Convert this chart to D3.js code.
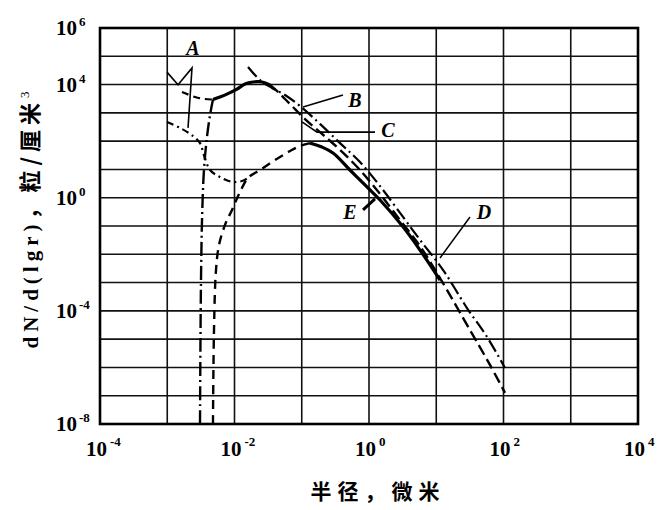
<!DOCTYPE html>
<html><head><meta charset="utf-8">
<script src="https://cdn.jsdelivr.net/npm/d3@7"></script>
<style>body{margin:0;background:#fff}</style>
</head><body><svg id="c" width="663" height="510"></svg>
<script>
// Tick exponents (labels are 10^e)
const xTickExps = [-4, -2, 0, 2, 4];
const yTickExps = [6, 4, 0, -4, -8];
const xGridExps = [-4, -3, -2, -1, 0, 1, 2, 3, 4];
const yGridExps = [6, 5, 4, 3, 2, 1, 0, -1, -2, -3, -4, -5, -6, -7, -8];

// Curves: log10 radius (µm), log10 dN/d(lgr)
const aUpperLogR = [-2.781, -2.587, -2.439, -2.320];
const aUpperLogN = [3.74, 3.56, 3.49, 3.47];

const aLowerLogR = [-3.004, -2.810, -2.617, -2.513, -2.454, -2.364, -2.216, -2.037, -1.888, -1.799];
const aLowerLogN = [2.68, 2.47, 2.18, 1.93, 1.51, 0.98, 0.73, 0.56, 0.59, 0.70];

const stemLogR = [-2.513, -2.507, -2.498, -2.483, -2.454, -2.409, -2.364, -2.320];
const stemLogN = [-8.0, -5.38, -2.91, -0.79, 0.98, 2.15, 2.92, 3.47];

const peakLogR = [-2.320, -2.216, -2.097, -1.963, -1.844, -1.725, -1.591, -1.472];
const peakLogN = [3.47, 3.56, 3.68, 3.84, 4.02, 4.09, 4.09, 3.99];

const cLogR = [-1.472, -1.353, -1.249, -1.145, -0.952, -0.729, -0.431, -0.134, 0.164, 0.461, 0.758, 1.056, 1.502, 1.799, 2.022];
const cLogN = [3.99, 3.74, 3.49, 3.24, 2.78, 2.32, 1.69, 0.98, 0.13, -0.79, -1.71, -2.84, -4.68, -5.91, -6.90];

const bLogR = [-1.799, -1.621, -1.442, -1.249, -1.026, -0.729, -0.431, -0.134, 0.164, 0.506, 0.758, 1.100, 1.457, 1.755, 2.022];
const bLogN = [4.62, 4.16, 3.88, 3.63, 3.24, 2.61, 1.93, 1.26, 0.41, -0.68, -1.49, -2.55, -3.90, -4.92, -6.02];

const eRiseLogR = [-2.320, -2.305, -2.275, -2.230, -2.141, -2.037, -1.918, -1.799, -1.621, -1.398, -1.175, -1.026, -0.877];
const eRiseLogN = [-8.0, -4.68, -2.55, -1.67, -0.96, -0.43, 0.20, 0.70, 0.98, 1.33, 1.65, 1.83, 1.93];

const eFallLogR = [-0.877, -0.699, -0.535, -0.283, -0.030, 0.164, 0.506, 0.758, 1.056];
const eFallLogN = [1.93, 1.79, 1.58, 0.98, 0.38, -0.08, -1.03, -1.85, -2.91];

// Annotation labels and leader lines (log units)
const labelNames = ["A", "B", "C", "D", "E"];
const labelLogR = [-2.617, -0.208, 0.283, 1.710, -0.283];
const labelLogN = [5.29, 3.45, 2.39, -0.50, -0.50];
const leaderA1LogR = [-3.004, -2.840, -2.632, -2.691];
const leaderA1LogN = [4.44, 3.99, 4.59, 2.47];
const leaderBLogR = [-0.981, -0.387];
const leaderBLogN = [3.21, 3.63];
const leaderCLogR = [-0.996, -0.773, 0.089];
const leaderCLogN = [2.68, 2.32, 2.32];
const leaderDLogR = [1.056, 1.502];
const leaderDLogN = [-2.13, -0.68];
const leaderELogR = [-0.089, 0.089];
const leaderELogN = [-0.43, -0.04];

const svg = d3.select("#c");
const x = d3.scaleLog().domain([1e-4, 1e4]).range([100, 638]);
const y = d3.scaleLog().domain([1e-8, 1e6]).range([424, 28]);
const P = (lr, ln) => lr.map((r, i) => [Math.pow(10, r), Math.pow(10, ln[i])]);
const line = d3.line().x(d => x(d[0])).y(d => y(d[1]));
const smooth = d3.line().x(d => x(d[0])).y(d => y(d[1])).curve(d3.curveCatmullRom.alpha(0.5));

// grid
const g = svg.append("g");
g.selectAll("line.v").data(xGridExps).join("line")
  .attr("x1", e => x(Math.pow(10, e))).attr("x2", e => x(Math.pow(10, e)))
  .attr("y1", y(1e6)).attr("y2", y(1e-8))
  .attr("stroke", "#111").attr("stroke-width", 1.6);
g.selectAll("line.h").data(yGridExps).join("line")
  .attr("y1", e => y(Math.pow(10, e))).attr("y2", e => y(Math.pow(10, e)))
  .attr("x1", x(1e-4)).attr("x2", x(1e4))
  .attr("stroke", "#111").attr("stroke-width", 1.6);
g.append("rect").attr("x", x(1e-4)).attr("y", y(1e6))
  .attr("width", x(1e4) - x(1e-4)).attr("height", y(1e-8) - y(1e6))
  .attr("fill", "none").attr("stroke", "#000").attr("stroke-width", 2.6);

// tick labels
const tf = "Liberation Serif, DejaVu Serif, serif";
yTickExps.forEach(e => {
  const t = svg.append("text").attr("x", 56).attr("y", y(Math.pow(10, e)) + 7)
    .attr("text-anchor", "start").attr("font-family", tf).attr("font-weight", "bold")
    .attr("font-size", 21).attr("fill", "#000");
  t.append("tspan").text("10");
  t.append("tspan").attr("dx", 2).attr("dy", -9).attr("font-size", 13).text(e < 0 ? "-" + (-e) : String(e));
});
xTickExps.forEach(e => {
  const t = svg.append("text").attr("x", x(Math.pow(10, e)) - 14).attr("y", 456)
    .attr("text-anchor", "start").attr("font-family", tf).attr("font-weight", "bold")
    .attr("font-size", 21).attr("fill", "#000");
  t.append("tspan").text("10");
  t.append("tspan").attr("dx", 3).attr("dy", -10).attr("font-size", 13).text(e < 0 ? "-" + (-e) : String(e));
});

// curves
function draw(lr, ln, dash, w) {
  svg.append("path").attr("d", smooth(P(lr, ln))).attr("fill", "none")
    .attr("stroke", "#000").attr("stroke-width", w)
    .attr("stroke-dasharray", dash).attr("stroke-linejoin", "round");
}
draw(aUpperLogR, aUpperLogN, "7,5", 2.2);
draw(aLowerLogR, aLowerLogN, "7,4,2,4", 2.2);
draw(stemLogR, stemLogN, "14,4,2,4", 2.4);
draw(peakLogR, peakLogN, null, 3.2);
draw(cLogR, cLogN, "11,5", 2.4);
draw(bLogR, bLogN, "13,4,2,4", 2.2);
draw(eRiseLogR, eRiseLogN, "9,6", 2.4);
draw(eFallLogR, eFallLogN, null, 3.2);

// leaders
[[leaderA1LogR, leaderA1LogN, 1.6], [leaderBLogR, leaderBLogN, 1.6], [leaderCLogR, leaderCLogN, 1.6],
 [leaderDLogR, leaderDLogN, 1.5], [leaderELogR, leaderELogN, 3]].forEach(([lr, ln, w]) => {
  svg.append("path").attr("d", line(P(lr, ln))).attr("fill", "none")
    .attr("stroke", "#000").attr("stroke-width", w);
});
labelNames.forEach((n, i) => {
  svg.append("text").attr("x", x(Math.pow(10, labelLogR[i]))).attr("y", y(Math.pow(10, labelLogN[i])) + 7)
    .attr("text-anchor", "middle").attr("font-family", tf).attr("font-style", "italic")
    .attr("font-weight", "bold").attr("font-size", 20).attr("fill", "#000").text(n);
});

// axis titles
const cjk = "Noto Sans CJK SC, sans-serif";
svg.append("text").attr("x", 378).attr("y", 499).attr("text-anchor", "middle")
  .attr("font-family", cjk).attr("font-weight", "bold").attr("font-size", 21)
  .attr("letter-spacing", 6).attr("fill", "#000").text("半径，微米");

const yt = svg.append("text").attr("transform", "translate(38,220) rotate(-90)")
  .attr("text-anchor", "middle").attr("fill", "#000");
yt.append("tspan").attr("font-family", tf).attr("font-size", 21).attr("font-weight", "bold")
  .attr("letter-spacing", 5).text("dN/d(lgr)");
yt.append("tspan").attr("font-family", cjk).attr("font-weight", "bold").attr("font-size", 22)
  .attr("letter-spacing", 5).text("，粒/厘米");
yt.append("tspan").attr("font-family", tf).attr("font-size", 13).attr("dy", -9).text("3");
</script></body></html>
